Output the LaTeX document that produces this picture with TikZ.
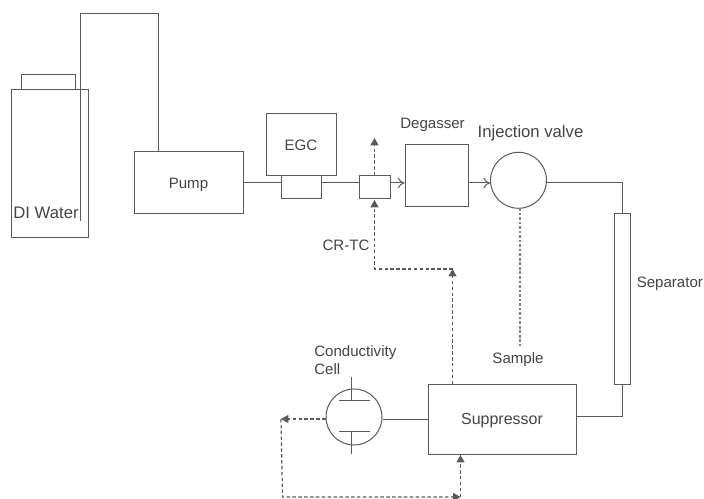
\documentclass[tikz,border=0pt]{standalone}
\usepackage{fontspec}
\setmainfont{Liberation Sans}
\usetikzlibrary{arrows.meta}
\definecolor{linecol}{HTML}{5A5A5A}
\definecolor{textcol}{HTML}{444444}
\tikzset{
  box/.style={draw=linecol,line width=.75pt,rectangle,inner sep=0pt,text=textcol,text depth=0pt,font=\fontsize{11.3}{13}\selectfont},
  disc/.style={draw=linecol,line width=.75pt,circle,inner sep=0pt,minimum size=42pt},
  lbl/.style={text=textcol,inner sep=0pt,font=\fontsize{11.3}{13.5}\selectfont},
  pipe/.style={draw=linecol,line width=.75pt},
  flow/.style={pipe,-{To[length=5pt,width=8pt]}},
  dash line/.style={draw=linecol,line width=.9pt,dash pattern=on 2.6pt off 1.8pt},
  dash arrow/.style={dash line,-{Triangle[length=5.5pt,width=6pt]}},
  dot line/.style={draw=linecol!75,line width=.9pt,dash pattern=on 2pt off 1.4pt},
}
\begin{document}
\begin{tikzpicture}[x=.75pt,y=-.75pt]
  \useasboundingbox (0,0) rectangle (704,499);
  % bottle
  \node[box,minimum width=57.75pt,minimum height=111pt] (water) at (49.5,164) {};
  \node[box,minimum width=40.5pt,minimum height=11.25pt] (cap) at (48,82.5) {};
  \node[lbl,font=\fontsize{12.5}{15}\selectfont] (waterlbl) at (46,213) {DI Water};
  % main line boxes
  \node[box,minimum width=81.75pt,minimum height=46.5pt] (pump) at (188.5,183) {Pump};
  \node[box,minimum width=52.5pt,minimum height=46.5pt] (egc) at (301,145) {EGC};
  \node[box,minimum width=30pt,minimum height=17.25pt] (egcbase) at (301,187.5) {};
  \node[box,minimum width=23.25pt,minimum height=17.25pt] (crtc) at (374.5,187.5) {};
  \node[box,minimum width=47.25pt,minimum height=46.5pt] (degasser) at (436.5,176) {};
  \node[disc] (valve) at (518.5,180.3) {};
  \node[box,minimum width=12pt,minimum height=127.5pt] (separator) at (622,299) {};
  \node[box,minimum width=111pt,minimum height=52.5pt,font=\fontsize{12}{14}\selectfont] (suppressor) at (502,419) {Suppressor};
  \node[disc] (cell) at (354,417) {};
  % labels
  \node[lbl] (degasserlbl) at (432.5,124.5) {Degasser};
  \node[lbl,font=\fontsize{12.5}{15}\selectfont] (valvelbl) at (530.5,133.5) {Injection valve};
  \node[lbl] (crtclbl) at (346,245) {CR-TC};
  \node[lbl,anchor=west] (seplbl) at (636.5,284) {Separator};
  \node[lbl] (samplelbl) at (518,360) {Sample};
  \node[lbl,anchor=west,align=left] (celllbl) at (314,360) {Conductivity\\Cell};
  % free ends
  \coordinate (tubeend) at (80,221);
  \coordinate (tubeA) at (80,14);
  \coordinate (tubeB) at (158,14);
  \coordinate (pumptop) at (158,152);
  \coordinate (lineR) at (622,183);
  \coordinate (lineS) at (622,416);
  \coordinate (ventend) at (374.5,138);
  \coordinate (crtcbot) at (374.5,200);
  \coordinate (crtcup) at (374.5,269);
  \coordinate (suptop) at (452.5,384);
  \coordinate (supup) at (452.5,269);
  \coordinate (cellout) at (281,419);
  \coordinate (loopA) at (282.5,497);
  \coordinate (loopB) at (460.5,497);
  \coordinate (supbot) at (460.5,455);
  \coordinate (sampletop) at (520,208);
  \coordinate (sampleend) at (520,346);
  % solid lines
  \draw[pipe] (tubeend) -- (tubeA) -- (tubeB) -- (pumptop);
  \draw[pipe] (pump.east) -- (egcbase.west |- pump.east);
  \draw[pipe] (egcbase.east |- pump.east) -- (crtc.west |- pump.east);
  \draw[flow] (crtc.east |- pump.east) -- (degasser.west |- pump.east);
  \draw[flow] (degasser.east |- pump.east) -- (valve.west |- pump.east);
  \draw[pipe] (valve.east |- pump.east) -- (lineR) -- (separator.north);
  \draw[pipe] (separator.south) -- (lineS) -- (suppressor.east |- lineS);
  \draw[pipe] (cell.east |- cellout) -- (suppressor.west |- cellout);
  % plates of the cell
  \draw[pipe] (339,400) coordinate (pa) -- (370,400) coordinate (pb);
  \draw[pipe] (339,431) coordinate (pc) -- (370,431) coordinate (pd);
  \draw[pipe] (351,377) coordinate (pe) -- (351,400) coordinate (pf);
  \draw[pipe] (351,431) coordinate (pg) -- (351,454) coordinate (ph);
  % dashed lines
  \draw[dash arrow] (crtc.north) -- (ventend);
  \draw[dash arrow] (suptop) -- (supup);
  \draw[dash arrow] (supup) -- (crtcup) -- (crtcbot);
  \draw[dash arrow] (cell.west |- cellout) -- (cellout);
  \draw[dash arrow] (cellout) -- (loopA) -- (loopB);
  \draw[dash arrow] (loopB) -- (supbot);
  \draw[dot line] (sampletop) -- (sampleend);
\end{tikzpicture}
\end{document}
